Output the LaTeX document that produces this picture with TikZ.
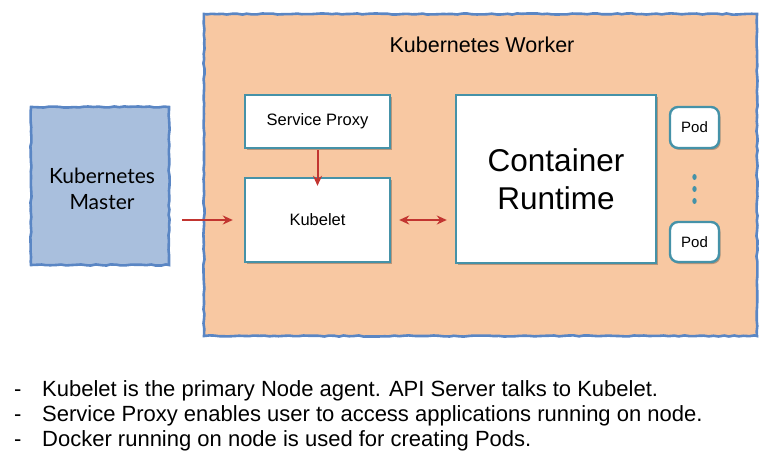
\documentclass[tikz,border=0pt]{standalone}
\usepackage{fontspec}
\setmainfont{Liberation Sans}
\newfontfamily\latofont{Lato}
\usetikzlibrary{arrows.meta,shadows,decorations.pathmorphing}
\definecolor{peach}{HTML}{F8C8A2}
\definecolor{skyfill}{HTML}{A9BFDD}
\definecolor{sketchblue}{HTML}{5A86C4}
\definecolor{teal}{HTML}{4592A8}
\definecolor{arrowred}{HTML}{C23530}
\tikzset{
  sketch/.style={draw=sketchblue, line width=2.6pt, decorate,
    decoration={random steps, segment length=5pt, amplitude=0.6pt}},
  panel/.style={inner sep=0pt, outer sep=0pt},
  whitebox/.style={draw=teal, line width=2.4pt, fill=white, inner sep=0pt,
    drop shadow={shadow xshift=1.5pt, shadow yshift=-2pt, opacity=0.25, fill=black}},
  podbox/.style={whitebox, rounded corners=8pt},
  redarrow/.style={draw=arrowred, line width=2pt, -{Stealth[length=10pt,width=9pt]}},
  reddouble/.style={draw=arrowred, line width=2pt, {Stealth[length=10pt,width=9pt]}-{Stealth[length=10pt,width=9pt]}},
  bullet/.style={anchor=base west, inner sep=0pt, font=\fontsize{22}{25}\selectfont},
}
\begin{document}
\begin{tikzpicture}[x=1pt, y=-1pt]
\useasboundingbox (0,0) rectangle (778,473);
% worker
\node[panel, fill=peach, minimum width=553pt, minimum height=322pt] (worker) at (480.5,175) {};
\draw[sketch] (worker.north west) rectangle (worker.south east);
\node[font=\fontsize{21.5}{24}\selectfont] (wtitle) at (482,45) {Kubernetes Worker};
% master
\node[panel, fill=skyfill, minimum width=138pt, minimum height=158pt] (master) at (100,186) {};
\draw[sketch] (master.north west) rectangle (master.south east);
\node[font=\latofont\fontsize{21}{26}\selectfont, text=black, align=center] (mtext) at (102,189) {Kubernetes\\Master};
% inner boxes
\node[whitebox, minimum width=145pt, minimum height=53pt, font=\fontsize{16.5}{20}\selectfont] (proxy) at (317.5,121.5) {Service Proxy};
\node[whitebox, minimum width=145pt, minimum height=84pt, font=\fontsize{16.5}{20}\selectfont] (kubelet) at (317.5,220) {Kubelet};
\node[whitebox, minimum width=200pt, minimum height=168pt, font=\fontsize{31.5}{38}\selectfont, align=center] (runtime) at (556,179) {Container\\Runtime};
\node[podbox, minimum width=49pt, minimum height=41pt, font=\fontsize{15}{18}\selectfont] (pod1) at (694.5,127.5) {Pod};
\node[podbox, minimum width=49pt, minimum height=40pt, font=\fontsize{15}{18}\selectfont] (pod2) at (694.5,242) {Pod};
\fill[teal] (694.5,177) ellipse (2.2pt and 3pt);
\fill[teal] (694.5,189) ellipse (2.2pt and 3pt);
\fill[teal] (694.5,201) ellipse (2.2pt and 3pt);
% arrows
\draw[redarrow, shorten <=13pt, shorten >=11pt] (master.east |- kubelet.west) -- (kubelet.west);
\draw[reddouble, shorten <=8pt, shorten >=8pt] (kubelet.east) -- (kubelet.east -| runtime.west);
\draw[redarrow, shorten <=1pt, shorten >=-9pt] (proxy.south) -- (kubelet.north);
% bullets
\node[bullet] (d1) at (14,396) {-};
\node[bullet] (t1) at (42,396) {Kubelet is the primary Node agent. API Server talks to Kubelet.};
\node[bullet] (d2) at (14,421) {-};
\node[bullet] (t2) at (42,421) {Service Proxy enables user to access applications running on node.};
\node[bullet] (d3) at (14,446) {-};
\node[bullet] (t3) at (42,446) {Docker running on node is used for creating Pods.};
\end{tikzpicture}
\end{document}
